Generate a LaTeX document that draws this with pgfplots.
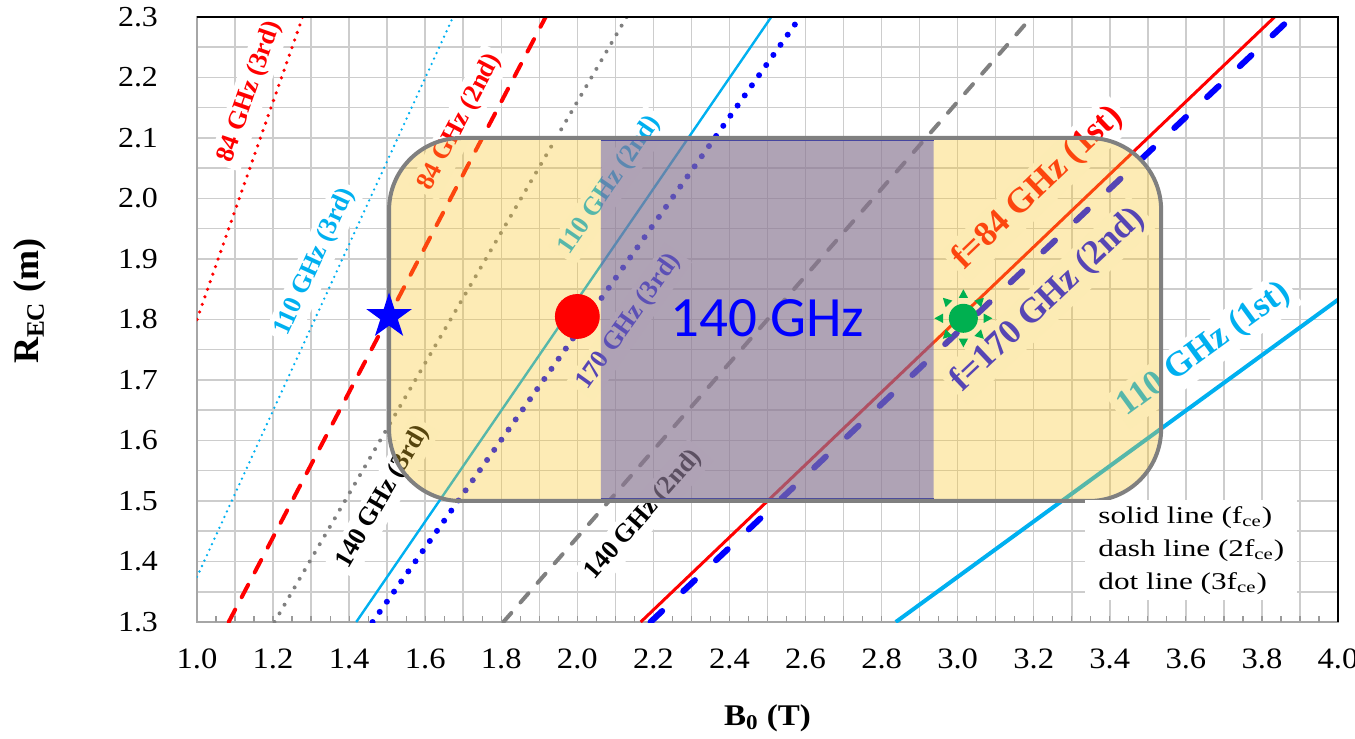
\documentclass[border=0pt]{standalone}
\usepackage{fontspec}
\setmainfont{Liberation Serif}
\newfontfamily\axfont{Liberation Serif}[FakeStretch=1.1]
\newfontfamily\keyfont{Liberation Serif}[FakeStretch=1.3]
\newfontfamily\bandfont{Carlito}
\usepackage{pgfplots}
\pgfplotsset{compat=1.18}

\definecolor{ecered}{RGB}{255,0,0}
\definecolor{ececyan}{RGB}{0,176,240}
\definecolor{eceblue}{RGB}{0,0,255}
\definecolor{ecegray}{RGB}{128,128,128}
\definecolor{winfill}{RGB}{249,198,42}
\definecolor{bandfill}{RGB}{99,91,182}
\definecolor{bandedge}{RGB}{70,70,160}
\definecolor{sungreen}{RGB}{0,176,80}
\definecolor{gridgray}{RGB}{205,205,205}

% filled five-pointed star
\pgfdeclareplotmark{fstar}{%
  \pgfpathmoveto{\pgfpointpolar{90}{\pgfplotmarksize}}%
  \pgfpathlineto{\pgfpointpolar{126}{0.382\pgfplotmarksize}}%
  \pgfpathlineto{\pgfpointpolar{162}{\pgfplotmarksize}}%
  \pgfpathlineto{\pgfpointpolar{198}{0.382\pgfplotmarksize}}%
  \pgfpathlineto{\pgfpointpolar{234}{\pgfplotmarksize}}%
  \pgfpathlineto{\pgfpointpolar{270}{0.382\pgfplotmarksize}}%
  \pgfpathlineto{\pgfpointpolar{306}{\pgfplotmarksize}}%
  \pgfpathlineto{\pgfpointpolar{342}{0.382\pgfplotmarksize}}%
  \pgfpathlineto{\pgfpointpolar{18}{\pgfplotmarksize}}%
  \pgfpathlineto{\pgfpointpolar{54}{0.382\pgfplotmarksize}}%
  \pgfpathclose
  \pgfusepathqfill}

% disc with eight small rays
\newcommand\sunray[3]{%
  \pgfpathmoveto{\pgfpointpolar{#1}{\pgfplotmarksize}}%
  \pgfpathlineto{\pgfpointpolar{#2}{0.72\pgfplotmarksize}}%
  \pgfpathlineto{\pgfpointpolar{#3}{0.72\pgfplotmarksize}}%
  \pgfpathclose}
\pgfdeclareplotmark{sun}{%
  \pgfpathcircle{\pgfpointorigin}{0.5\pgfplotmarksize}%
  \sunray{0}{13}{-13}\sunray{45}{58}{32}\sunray{90}{103}{77}%
  \sunray{135}{148}{122}\sunray{180}{193}{167}\sunray{225}{238}{212}%
  \sunray{270}{283}{257}\sunray{315}{328}{302}%
  \pgfusepathqfill}

\newcommand\lblS{\bfseries\fontsize{13}{14}\selectfont}
\newcommand\lblL{\bfseries\fontsize{17.5}{19}\selectfont}

\begin{document}
\begin{tikzpicture}
\begin{axis}[
  name=ax, at={(0,0)}, anchor=south west,
  scale only axis, width=570.5pt, height=302.5pt,
  xmin=1, xmax=4, ymin=1.3, ymax=2.3,
  xtick={1.0,1.2,1.4,1.6,1.8,2.0,2.2,2.4,2.6,2.8,3.0,3.2,3.4,3.6,3.8,4.0},
  minor xtick={1.1,1.3,1.5,1.7,1.9,2.1,2.3,2.5,2.7,2.9,3.1,3.3,3.5,3.7,3.9},
  extra x ticks={1.05,1.15,1.25,1.35,1.45,1.55,1.65,1.75,1.85,1.95,2.05,2.15,2.25,2.35,2.45,2.55,2.65,2.75,2.85,2.95,3.05,3.15,3.25,3.35,3.45,3.55,3.65,3.75,3.85,3.95},
  extra x tick labels={},
  extra x tick style={grid=none},
  ytick={1.3,1.4,1.5,1.6,1.7,1.8,1.9,2.0,2.1,2.2,2.3},
  minor ytick={1.35,1.45,1.55,1.65,1.75,1.85,1.95,2.05,2.15,2.25},
  grid=both,
  major grid style={gridgray, line width=0.75pt},
  minor grid style={gridgray, line width=0.75pt},
  tick pos=left, tick align=inside,
  x tick style={ecegray!80, line width=0.6pt},
  y tick style={draw=none},
  major tick length=3pt, minor tick length=3pt,
  axis line style={draw=ecegray!70, line width=0.8pt},
  /pgf/number format/.cd, fixed, fixed zerofill, precision=1, assume math mode=true,
  /pgfplots/.cd,
  xticklabel style={font=\axfont\fontsize{14.8}{17}\selectfont, yshift=-10pt},
  yticklabel style={font=\axfont\fontsize{14.5}{16}\selectfont, xshift=-16pt},
  xlabel={B\textsubscript{0} (T)},
  xlabel style={font=\axfont\bfseries\fontsize{15}{17}\selectfont,
    at={(rel axis cs:0.5,0)}, anchor=center, yshift=-48pt},
  ylabel={R\textsubscript{EC} (m)},
  ylabel style={font=\bfseries\fontsize{18}{20}\selectfont,
    at={(rel axis cs:0,0.53)}, anchor=center, yshift=83.5pt},
]

% resonance lines R = 1.8 m * n * 28 GHz/T * B0 / f
% 3rd harmonic (dotted)
\addplot[ecered, line width=1.8pt, line cap=round, dash pattern=on 0pt off 4pt]
  coordinates {(1.0,1.8) (1.2778,2.3)};
\addplot[ececyan, line width=1.3pt, line cap=round, dash pattern=on 0pt off 3pt]
  coordinates {(1.0,1.3745) (1.6733,2.3)};
\addplot[ecegray, line width=2pt, line cap=round, dash pattern=on 0pt off 5pt]
  coordinates {(1.2037,1.3) (2.1296,2.3)};
\addplot[eceblue, line width=3pt, line cap=round, dash pattern=on 0pt off 6.2pt]
  coordinates {(1.4616,1.3) (2.5860,2.3)};
% 2nd harmonic
\addplot[ecered, line width=2pt, line cap=round, dash pattern=on 7pt off 7pt]
  coordinates {(1.0833,1.3) (1.9167,2.3)};
\addplot[ecegray, line width=2pt, line cap=round, dash pattern=on 6pt off 7pt]
  coordinates {(1.8056,1.3) (3.1944,2.3)};
\addplot[ececyan, line width=1.2pt]
  coordinates {(1.4187,1.3) (2.5099,2.3)};
\addplot[eceblue, line width=3pt, line cap=round, dash pattern=on 8pt off 14.5pt]
  coordinates {(2.1925,1.3) (3.8790,2.3)};
% fundamental (solid)
\addplot[ecered, line width=1.5pt]
  coordinates {(2.1667,1.3) (3.8333,2.3)};
\addplot[ececyan, line width=2pt]
  coordinates {(2.8373,1.3) (4.0,1.8327)};

% line labels
\begin{scope}[every node/.style={fill=white, inner sep=2.5pt}]
\node[rotate=70.75, text=ecered, font=\lblS] at (axis cs:1.139,2.176) {84 GHz (3rd)};
\node[rotate=65.4, text=ececyan, font=\lblS] at (axis cs:1.310,1.895) {110 GHz (3rd)};
\node[rotate=62.4, text=ecered, font=\lblS] at (axis cs:1.692,2.126) {84 GHz (2nd)};
\node[rotate=55.6, text=ececyan, font=\lblS] at (axis cs:2.086,2.022) {110 GHz (2nd)};
\node[rotate=54.7, text=eceblue, font=\lblS] at (axis cs:2.136,1.796) {170 GHz (3rd)};
\node[rotate=59.8, text=black, font=\lblS] at (axis cs:1.489,1.507) {140 GHz (3rd)};
\node[rotate=48.9, text=black, font=\lblS] at (axis cs:2.175,1.477) {140 GHz (2nd)};
\node[rotate=43.7, text=ecered, font=\lblL] at (axis cs:3.211,2.017) {f=84 GHz (1st)};
\node[rotate=43.3, text=eceblue, font=\lblL] at (axis cs:3.238,1.832) {f=170 GHz (2nd)};
\node[rotate=36.1, text=ececyan, font=\lblL] at (axis cs:3.648,1.750) {110 GHz (1st)};
\end{scope}

% operating window (rounded, translucent) and the 140 GHz band
\fill[winfill, fill opacity=0.35, rounded corners=36pt]
  (axis cs:1.505,1.5) rectangle (axis cs:3.535,2.1);
\addplot[draw=none, fill=bandfill, fill opacity=0.5]
  coordinates {(2.062,1.5) (2.937,1.5) (2.937,2.1) (2.062,2.1) (2.062,1.5)};
\addplot[bandedge, line width=0.75pt] coordinates {(2.062,2.0955) (2.937,2.0955)};
\addplot[bandedge, line width=0.75pt] coordinates {(2.062,1.5045) (2.937,1.5045)};
\draw[ecegray, line width=2pt, rounded corners=36pt]
  (axis cs:1.505,1.5) rectangle (axis cs:3.535,2.1);

\node[text=eceblue, font=\bandfont\fontsize{28.5}{30}\selectfont] at (axis cs:2.50,1.8025) {140 GHz};

% operating points
\addplot[only marks, mark=fstar, mark size=12pt, color=eceblue] coordinates {(1.505,1.805)};
\addplot[only marks, mark=*, mark size=11pt, color=ecered] coordinates {(2.0,1.805)};
\addplot[only marks, mark=sun, mark size=14.5pt, color=sungreen] coordinates {(3.015,1.802)};

% line style key
\node[fill=white, anchor=north west, align=left, inner xsep=6.5pt, inner ysep=3pt,
  font=\keyfont\fontsize{12}{16.5}\selectfont] at (axis cs:3.335,1.502)
  {solid line (f\textsubscript{ce})\\ dash line (2f\textsubscript{ce})\\ dot line (3f\textsubscript{ce})};
\end{axis}
\draw[black, line width=0.75pt] (ax.north west) -- (ax.north east) -- (ax.south east);
\pgfresetboundingbox
\path ([xshift=-98.5pt, yshift=-58.5pt]ax.south west) rectangle ([xshift=8.5pt, yshift=8.5pt]ax.north east);
\end{tikzpicture}
\end{document}
